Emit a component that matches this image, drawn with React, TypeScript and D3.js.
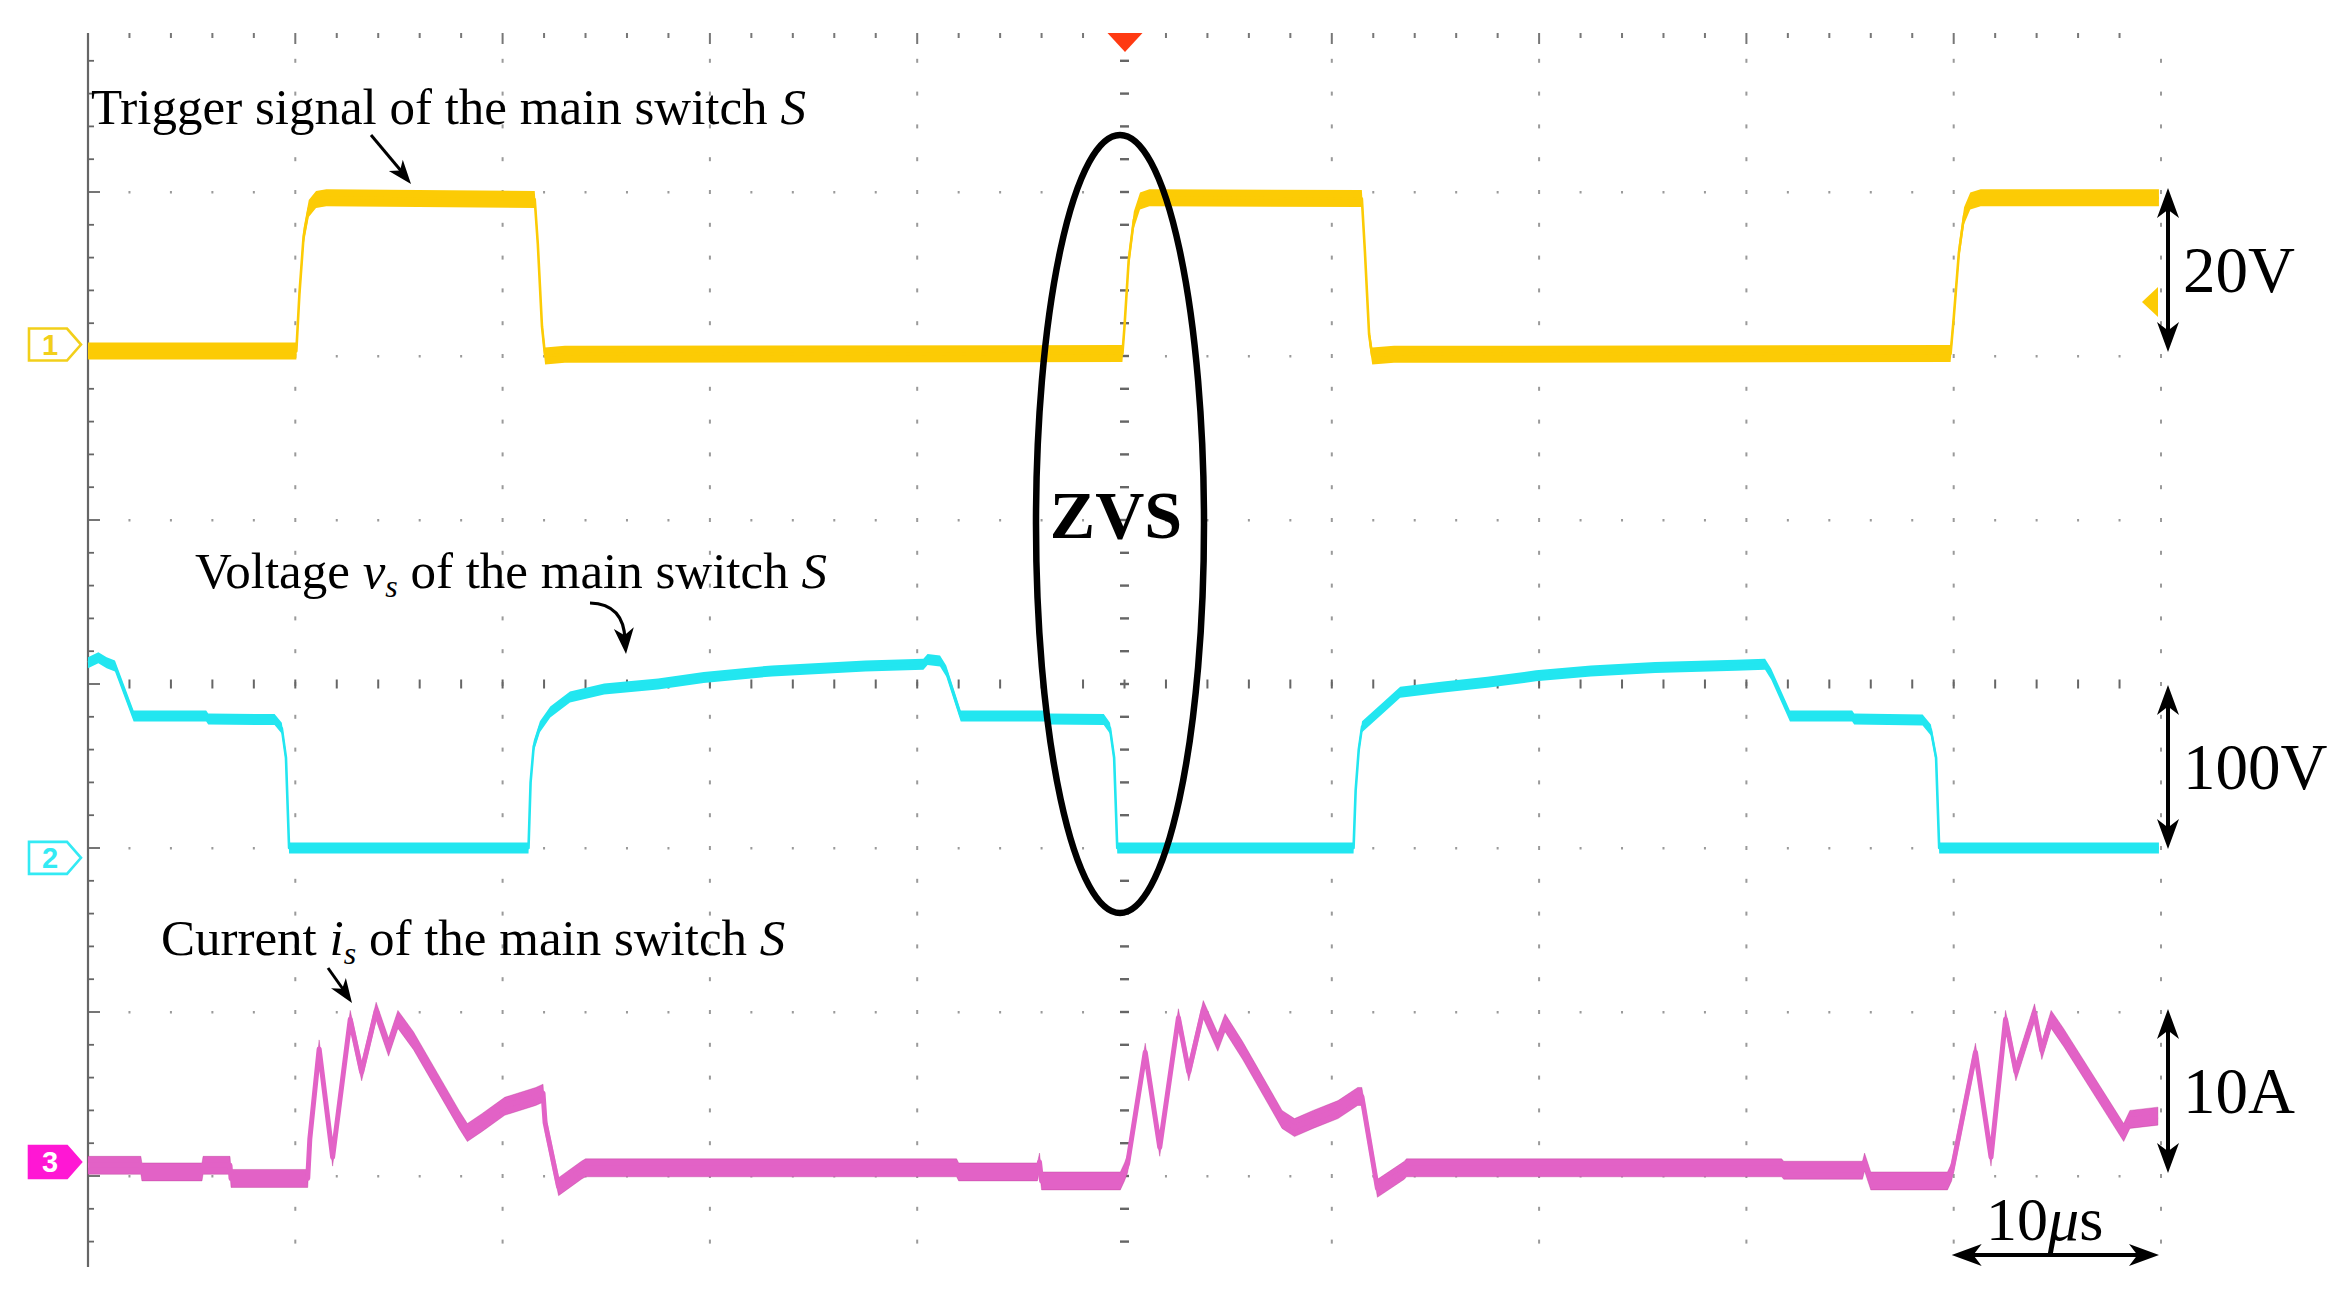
import { useEffect, useRef } from 'react';
import * as d3 from 'd3';

const W = 2343;
const H = 1312;

// time in μs (10 μs/div), values in channel units (V, V, A)
const gatePoints: [number, number][] = [
  [0, 0], [10.05, 0], [10.2, 7], [10.4, 14], [10.65, 17.4], [11.0, 18.5], [11.5, 18.7],
  [21.55, 18.5], [21.7, 13], [21.9, 3], [22.05, -0.6], [23, -0.4], [49.9, -0.3],
  [50.0, 3], [50.2, 11], [50.45, 16], [50.75, 18.3], [51.2, 18.7],
  [61.45, 18.6], [61.6, 12], [61.8, 2], [61.95, -0.6], [63, -0.4], [89.85, -0.3],
  [90.0, 4], [90.25, 12], [90.5, 16.5], [90.8, 18.3], [91.3, 18.7], [99.9, 18.7],
];

const vsPoints: [number, number][] = [
  [0, 113], [0.5, 116], [0.9, 113], [1.3, 111], [2.2, 80.5], [5.7, 80.5], [5.8, 78.7],
  [9.0, 78.3], [9.35, 73], [9.55, 55], [9.7, 0],
  [21.25, 0], [21.35, 40], [21.5, 62], [21.8, 74], [22.3, 83], [23.25, 92], [24.9, 97],
  [27.5, 100], [29.7, 104], [33, 108], [37.5, 111], [40.3, 112], [40.5, 115], [41.1, 114],
  [41.4, 108], [42.1, 80.5], [46.2, 80.5], [46.3, 78.7], [49.0, 78.3], [49.3, 73],
  [49.5, 55], [49.65, 0],
  [61.05, 0], [61.15, 35], [61.3, 60], [61.46, 74], [62.57, 86.6], [63.3, 95], [65.27, 98],
  [67.5, 101], [69.85, 105], [72.5, 108], [75.6, 110], [79.5, 111.5], [80.9, 112],
  [81.2, 106], [82.1, 80.5], [85.1, 80.5], [85.2, 78.7], [88.5, 78], [88.9, 72],
  [89.15, 55], [89.3, 0], [99.9, 0],
];

const isPoints: [number, number][] = [
  [0, 0.4], [2.55, 0.4], [2.6, 0], [5.5, 0], [5.55, 0.4], [6.85, 0.4], [6.9, -0.4],
  [10.6, -0.4], [10.7, 2], [11.15, 7.5], [11.8, 0.9], [12.65, 9.3], [13.2, 6.1],
  [13.9, 9.8], [14.5, 7.6], [14.95, 9.3], [15.7, 8.0], [17.9, 3.2], [18.3, 2.4],
  [19.0, 3.0], [20.1, 4.0], [21.6, 4.6], [21.95, 4.8], [22.05, 3], [22.7, -0.9],
  [23.8, 0.1], [24.0, 0.25], [41.9, 0.25], [42.0, 0], [45.8, 0], [45.9, 0.6],
  [46.0, -0.55], [49.8, -0.55], [50.0, 0], [50.15, 0.5], [51.0, 7.3], [51.7, 1.5],
  [52.6, 9.4], [53.1, 6.1], [53.8, 9.9], [54.5, 7.9], [54.85, 9.1], [55.7, 7.4],
  [57.6, 3.2], [58.2, 2.7], [59.1, 3.2], [60.3, 3.8], [61.25, 4.6], [61.45, 4.6],
  [62.2, -1.0], [63.5, 0.1], [63.6, 0.25], [81.7, 0.25], [81.8, 0.1], [85.6, 0.1],
  [85.7, 0.6], [86.0, -0.55], [89.7, -0.55], [89.9, 0], [91.05, 7.3], [91.8, 0.9],
  [92.5, 9.3], [93.0, 6.1], [93.9, 9.7], [94.25, 7.4], [94.7, 9.3], [95.3, 8.2],
  [97.4, 4.0], [98.2, 2.4], [98.5, 3.2], [99.85, 3.4],
];

const channelNames = ['1', '2', '3'];
const unitsPerDiv = [20, 100, 10];
const scaleLabels = ['20V', '100V', '10A'];
const timePerDiv = 10;
const triggerTime = 50;

export default function App() {
  const svgRef = useRef<SVGSVGElement>(null);

  useEffect(() => {
    if (!svgRef.current) return;
    const svg = d3.select(svgRef.current);
    svg.selectAll('*').remove();

    const serif = '"Liberation Serif", "Times New Roman", serif';
    const sans = '"Liberation Sans", Arial, sans-serif';
    const colors = ['#fccb05', '#22e6f0', '#e262c6'];
    const groundDiv = [1.97, 5.0, 6.975];
    const markerDiv = [1.93, 5.06, 6.915];
    const band = [8.5, 5.5, 9];
    const lineW = [2.6, 2.6, 5];
    const visTop = 33;
    const visBottom = 1267;

    const x = d3.scaleLinear().domain([0, 10 * timePerDiv]).range([88, 2161]);
    const yDiv = d3.scaleLinear().domain([0, 8]).range([28, 1340]);

    svg.append('rect').attr('width', W).attr('height', H).attr('fill', '#fff');

    // graticule
    const grid = svg.append('g');
    const minorY = d3.range(1, 40).map(j => j / 5).filter(d => yDiv(d) > visTop + 4 && yDiv(d) < visBottom - 4);
    const minorX = d3.range(1, 50).map(j => j * 2);
    const majorX = d3.range(1, 11).map(i => i * timePerDiv);
    const majorY = d3.range(1, 8).filter(k => yDiv(k) < visBottom);

    majorX.forEach(t => {
      const center = t === triggerTime;
      grid.selectAll(null).data(minorY).enter().append('rect')
        .attr('x', x(t) - (center ? 4.5 : 1))
        .attr('y', d => yDiv(d) - (center ? 1.2 : 2))
        .attr('width', center ? 9 : 2)
        .attr('height', center ? 2.4 : 4)
        .attr('fill', center ? '#666' : '#9a9a9a');
    });
    majorY.forEach(k => {
      const center = k === 4;
      grid.selectAll(null).data(minorX.filter(t => center || t % timePerDiv !== 0)).enter().append('rect')
        .attr('x', d => x(d) - 1)
        .attr('y', yDiv(k) - (center ? 4.5 : 1))
        .attr('width', 2)
        .attr('height', center ? 9 : 2.5)
        .attr('fill', center ? '#666' : '#9a9a9a');
    });
    // top edge ticks
    grid.selectAll(null).data(minorX).enter().append('rect')
      .attr('x', d => x(d) - 1)
      .attr('y', visTop)
      .attr('width', 2)
      .attr('height', d => (d % timePerDiv === 0 ? 11 : 5))
      .attr('fill', '#777');
    // left edge with ticks
    grid.append('line')
      .attr('x1', x(0)).attr('x2', x(0)).attr('y1', visTop).attr('y2', visBottom)
      .attr('stroke', '#666').attr('stroke-width', 2.2);
    grid.selectAll(null).data(minorY).enter().append('line')
      .attr('x1', x(0)).attr('x2', d => x(0) + (Math.abs(d - Math.round(d)) < 1e-6 ? 12 : 6))
      .attr('y1', d => yDiv(d)).attr('y2', d => yDiv(d))
      .attr('stroke', '#666').attr('stroke-width', 1.8);

    // trigger position marker
    svg.append('path')
      .attr('d', `M${x(triggerTime) - 17},${visTop} L${x(triggerTime) + 18},${visTop} L${x(triggerTime) + 0.5},${visTop + 19} Z`)
      .attr('fill', '#ff3a12');

    // traces: noise envelope drawn as a band around each point
    const traces = [gatePoints, vsPoints, isPoints];
    traces.forEach((pts, c) => {
      const yc = (v: number) => yDiv(groundDiv[c] - v / unitsPerDiv[c]);
      const area = d3.area<[number, number]>()
        .x(d => x(d[0]))
        .y0(d => yc(d[1]) - band[c])
        .y1(d => yc(d[1]) + band[c]);
      const line = d3.line<[number, number]>()
        .x(d => x(d[0]))
        .y(d => yc(d[1]));
      const g = svg.append('g');
      g.append('path').datum(pts).attr('d', area)
        .attr('fill', colors[c])
        .attr('stroke', c === 2 ? '#b5338f' : 'none')
        .attr('stroke-width', 1)
        .attr('stroke-opacity', 0.35);
      g.append('path').datum(pts).attr('d', line)
        .attr('fill', 'none')
        .attr('stroke', colors[c])
        .attr('stroke-width', lineW[c])
        .attr('stroke-linejoin', 'round');
    });

    // trigger level marker for channel 1
    const trigY = yDiv(groundDiv[0] - 6 / unitsPerDiv[0]);
    svg.append('path')
      .attr('d', `M2142,${trigY} L2158,${trigY - 15} L2158,${trigY + 15} Z`)
      .attr('fill', colors[0]);

    // channel markers
    channelNames.forEach((name, c) => {
      const cy = yDiv(markerDiv[c]);
      const filled = c === 2;
      const stroke = ['#f2cf1a', '#33eaf4', '#ff17d4'][c];
      svg.append('path')
        .attr('d', `M29,${cy - 16} L67,${cy - 16} L81,${cy} L67,${cy + 16} L29,${cy + 16} Z`)
        .attr('fill', filled ? stroke : '#fff')
        .attr('stroke', stroke)
        .attr('stroke-width', 2.6);
      svg.append('text')
        .attr('x', 50).attr('y', cy + 10)
        .attr('text-anchor', 'middle')
        .attr('font-family', sans)
        .attr('font-weight', 'bold')
        .attr('font-size', 29)
        .attr('fill', filled ? '#fff' : stroke)
        .text(name);
    });

    // arrow helper
    const arrowHead = (tx: number, ty: number, angle: number, len: number, hw: number) => {
      const dx = Math.cos(angle), dy = Math.sin(angle);
      const bx = tx - dx * len, by = ty - dy * len;
      const nx = tx - dx * len * 0.72, ny = ty - dy * len * 0.72;
      svg.append('path')
        .attr('d', `M${tx},${ty} L${bx - dy * hw},${by + dx * hw} L${nx},${ny} L${bx + dy * hw},${by - dx * hw} Z`)
        .attr('fill', '#000');
    };

    // annotation texts
    const t1 = svg.append('text').attr('x', 91).attr('y', 124)
      .attr('font-family', serif).attr('font-size', 51).attr('fill', '#000');
    t1.append('tspan').text('Trigger signal of the main switch ');
    t1.append('tspan').attr('font-style', 'italic').text('S');

    const t2 = svg.append('text').attr('x', 195).attr('y', 588)
      .attr('font-family', serif).attr('font-size', 51).attr('fill', '#000');
    t2.append('tspan').text('Voltage ');
    t2.append('tspan').attr('font-style', 'italic').text('v');
    t2.append('tspan').attr('font-style', 'italic').attr('font-size', 32).attr('dy', 9).text('s');
    t2.append('tspan').attr('dy', -9).text(' of the main switch ');
    t2.append('tspan').attr('font-style', 'italic').text('S');

    const t3 = svg.append('text').attr('x', 161).attr('y', 955)
      .attr('font-family', serif).attr('font-size', 51).attr('fill', '#000');
    t3.append('tspan').text('Current ');
    t3.append('tspan').attr('font-style', 'italic').text('i');
    t3.append('tspan').attr('font-style', 'italic').attr('font-size', 32).attr('dy', 9).text('s');
    t3.append('tspan').attr('dy', -9).text(' of the main switch ');
    t3.append('tspan').attr('font-style', 'italic').text('S');

    // annotation arrows
    svg.append('line').attr('x1', 371).attr('y1', 135).attr('x2', 402).attr('y2', 172)
      .attr('stroke', '#000').attr('stroke-width', 3);
    arrowHead(411, 184, Math.atan2(184 - 135, 411 - 371), 24, 9);

    svg.append('path').attr('d', 'M590,603 Q624,604 625,640')
      .attr('fill', 'none').attr('stroke', '#000').attr('stroke-width', 3.2);
    arrowHead(626, 654, Math.atan2(654 - 630, 626 - 624), 26, 10);

    svg.append('line').attr('x1', 328).attr('y1', 968).attr('x2', 345).attr('y2', 992)
      .attr('stroke', '#000').attr('stroke-width', 3);
    arrowHead(352, 1003, Math.atan2(1003 - 968, 352 - 328), 24, 9);

    // ZVS ellipse
    svg.append('ellipse')
      .attr('cx', 1120).attr('cy', 524).attr('rx', 84).attr('ry', 389)
      .attr('fill', 'none').attr('stroke', '#000').attr('stroke-width', 6.5);
    svg.append('text').attr('x', 1116).attr('y', 538)
      .attr('text-anchor', 'middle')
      .attr('font-family', serif).attr('font-weight', 'bold').attr('font-size', 68)
      .attr('fill', '#000').text('ZVS');

    // vertical scale arrows (one division each)
    const ax = 2168;
    scaleLabels.forEach((label, c) => {
      const y0 = yDiv(groundDiv[c] - 1) + 1;
      const y1 = yDiv(groundDiv[c]) + 1;
      svg.append('line').attr('x1', ax).attr('x2', ax).attr('y1', y0 + 20).attr('y2', y1 - 20)
        .attr('stroke', '#000').attr('stroke-width', 4);
      arrowHead(ax, y0, -Math.PI / 2, 30, 11);
      arrowHead(ax, y1, Math.PI / 2, 30, 11);
      svg.append('text').attr('x', 2183).attr('y', (y0 + y1) / 2 + 22)
        .attr('font-family', serif).attr('font-size', 65).attr('fill', '#000')
        .text(label);
    });

    // horizontal time scale arrow
    const hx0 = x(9 * timePerDiv) - 2;
    const hx1 = x(10 * timePerDiv) - 2;
    const hy = 1255;
    svg.append('line').attr('x1', hx0 + 20).attr('x2', hx1 - 20).attr('y1', hy).attr('y2', hy)
      .attr('stroke', '#000').attr('stroke-width', 4);
    arrowHead(hx0, hy, Math.PI, 30, 11);
    arrowHead(hx1, hy, 0, 30, 11);
    const tl = svg.append('text').attr('x', 1986).attr('y', 1240)
      .attr('font-family', serif).attr('font-size', 62).attr('fill', '#000');
    tl.append('tspan').text('10');
    tl.append('tspan').attr('font-style', 'italic').text('μ');
    tl.append('tspan').text('s');
  }, []);

  return (
    <svg
      ref={svgRef}
      width={W}
      height={H}
      style={{ position: 'absolute', left: 0, top: 0, display: 'block' }}
    />
  );
}
